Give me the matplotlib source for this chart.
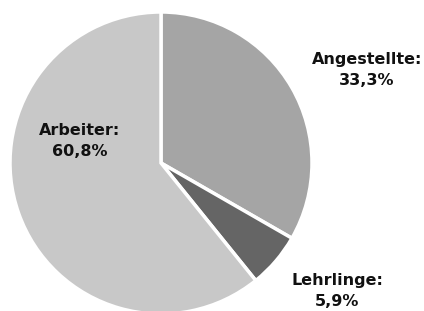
import matplotlib
matplotlib.use("Agg")
import matplotlib.pyplot as plt

categories = ["Angestellte", "Lehrlinge", "Arbeiter"]
values = [33.3, 5.9, 60.8]
colors = ["#a5a5a5", "#656565", "#c8c8c8"]
# label anchor positions in pixels (x, y from top)
label_pos = [(367, 70), (337, 291), (80, 141)]

W, H = 424, 311
fig = plt.figure(figsize=(W / 100, H / 100), dpi=100)
ax = fig.add_axes([0, 0, 1, 1])
cx, cy, r = 161, H - 163, 151
ax.pie(values, colors=colors, startangle=90, counterclock=False,
       center=(cx, cy), radius=r,
       wedgeprops=dict(edgecolor="white", linewidth=2.5))
ax.set_xlim(0, W)
ax.set_ylim(0, H)
ax.set_aspect("equal")
ax.axis("off")

for cat, v, (x, y) in zip(categories, values, label_pos):
    txt = f"{cat}:\n{v:.1f}%".replace(".", ",")
    ax.text(x, H - y, txt, ha="center", va="center", fontsize=11.5,
            fontweight="bold", color="#111111", linespacing=1.45,
            family="DejaVu Sans")

fig.savefig("out.png", dpi=100)
